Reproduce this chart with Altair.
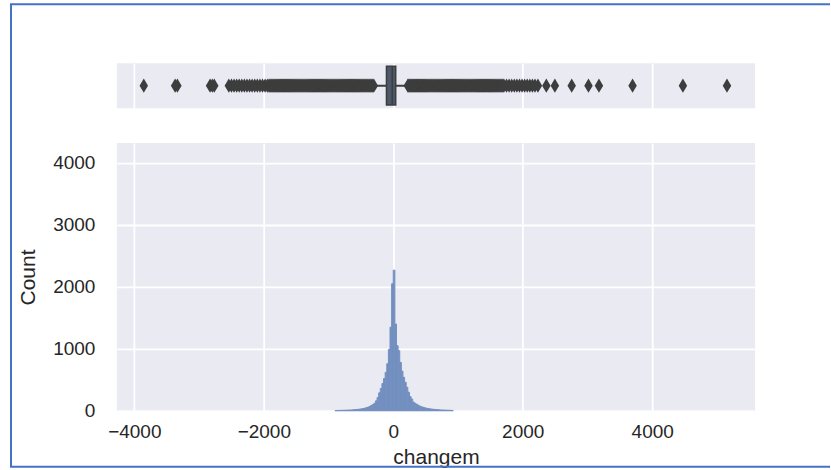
import altair as alt
import pandas as pd

# Histogram of changem: lower bin edges (width 25) and counts
bin_width = 25
bin_lo = [
    -900, -875, -850, -825, -800, -775, -750, -725, -700, -675, -650, -625,
    -600, -575, -550, -525, -500, -475, -450, -425, -400, -375, -350, -325,
    -300, -275, -250, -225, -200, -175, -150, -125, -100, -75, -50, -25,
    0, 25, 50, 75, 100, 125, 150, 175, 200, 225, 250, 275,
    300, 325, 350, 375, 400, 425, 450, 475, 500, 525, 550, 575,
    600, 625, 650, 675, 700, 725, 750, 775, 800, 825, 850, 875, 900,
]
counts = [
    4, 5, 6, 6, 7, 8, 9, 10, 11, 12, 14, 16,
    18, 21, 24, 27, 31, 36, 42, 50, 58, 70, 85, 100,
    120, 160, 215, 290, 360, 440, 520, 620, 760, 990, 1350, 2050,
    2270, 1400, 1050, 970, 780, 640, 540, 460, 380, 300, 230, 190,
    140, 120, 105, 90, 75, 65, 55, 48, 42, 36, 32, 28,
    25, 22, 19, 17, 15, 13, 12, 11, 10, 9, 8, 7, 6,
]

# Box plot summary of changem
q1, median, q3 = -105, -15, 38
whisker_lo, whisker_hi = -280, 230

# Outliers beyond the whiskers (low side, then high side)
outliers_low = [
    -3854, -3370, -3335, -2830, -2795, -2765,
    -2540, -2500, -2460, -2420, -2380, -2340, -2300, -2260, -2220, -2180,
    -2140, -2100, -2060, -2020, -1980, -1945,
    -1920, -1905, -1890, -1875, -1860, -1845, -1830, -1815, -1800, -1785,
    -1770, -1755, -1740, -1725, -1710, -1695, -1680, -1665, -1650, -1635,
    -1620, -1605, -1590, -1575, -1560, -1545, -1530, -1515, -1500, -1485,
    -1470, -1455, -1440, -1425, -1410, -1395, -1380, -1365, -1350, -1335,
    -1320, -1305, -1290, -1275, -1260, -1245, -1230, -1215, -1200, -1185,
    -1170, -1155, -1140, -1125, -1110, -1095, -1080, -1065, -1050, -1035,
    -1020, -1005, -990, -975, -960, -945, -930, -915, -900, -885,
    -870, -855, -840, -825, -810, -795, -780, -765, -750, -735,
    -720, -705, -690, -675, -660, -645, -630, -615, -600, -585,
    -570, -555, -540, -525, -510, -495, -480, -465, -450, -435,
    -420, -405, -390, -375, -360, -345, -330, -315, -300,
]
outliers_high = [
    225, 240, 255, 270, 285, 300, 315, 330, 345, 360,
    375, 390, 405, 420, 435, 450, 465, 480, 495, 510,
    525, 540, 555, 570, 585, 600, 615, 630, 645, 660,
    675, 690, 705, 720, 735, 750, 765, 780, 795, 810,
    825, 840, 855, 870, 885, 900, 915, 930, 945, 960,
    975, 990, 1005, 1020, 1035, 1050, 1065, 1080, 1095, 1110,
    1125, 1140, 1155, 1170, 1185, 1200, 1215, 1230, 1245, 1260,
    1275, 1290, 1305, 1320, 1335, 1350, 1365, 1380, 1395, 1410,
    1425, 1440, 1455, 1470, 1485, 1500, 1515, 1530, 1545, 1560,
    1575, 1590, 1605, 1620, 1635, 1650, 1665, 1680, 1695, 1710,
    1750, 1790, 1830, 1870, 1910, 1950, 1990, 2030, 2070, 2110,
    2150, 2190, 2235,
    2365, 2497, 2757, 3016, 3178, 3697, 4475, 5156,
]

x_ticks = [-4000, -2000, 0, 2000, 4000]
y_ticks = [0, 1000, 2000, 3000, 4000]
x_domain = [-4270, 5590]
y_max = 4320

FONT = "Liberation Sans"
TEXT = "#262626"
DARK = "#3d3d3d"
FRAME = "#4472c4"
BAR = "#7390c0"
W = 639

x_scale = alt.Scale(domain=x_domain, nice=False, zero=False)

hist_df = pd.DataFrame({
    "lo": bin_lo,
    "hi": [b + bin_width for b in bin_lo],
    "count": counts,
})
box_df = pd.DataFrame([{
    "q1": q1, "median": median, "q3": q3,
    "lo": whisker_lo, "hi": whisker_hi,
}])
out_df = pd.DataFrame({"changem": outliers_low + outliers_high})
one = alt.Data(values=[{}])

# ---- top panel: horizontal box plot ----
band = alt.Scale(domain=[-0.5, 0.5], nice=False, zero=False)
x_grid_only = alt.Axis(values=x_ticks, labels=False, ticks=False,
                       domain=False, title=None, grid=True)

whisker = alt.Chart(box_df).mark_rule(color=DARK, strokeWidth=2).encode(
    x=alt.X("lo:Q", scale=x_scale, axis=x_grid_only),
    x2="hi:Q",
    y=alt.datum(0, scale=band, axis=None),
)
box = alt.Chart(box_df).mark_rect(
    fill="#4d596b", stroke=DARK, strokeWidth=1.5
).encode(
    x=alt.X("q1:Q", scale=x_scale),
    x2="q3:Q",
    y=alt.datum(-0.43, scale=band),
    y2=alt.datum(0.43),
)
med = alt.Chart(box_df).mark_rule(color=DARK, strokeWidth=1.5).encode(
    x=alt.X("median:Q", scale=x_scale),
    y=alt.datum(-0.43, scale=band),
    y2=alt.datum(0.43),
)
fliers = alt.Chart(out_df).mark_point(
    shape="M0,-1L0.6,0L0,1L-0.6,0Z", filled=True, color=DARK,
    opacity=1, size=200,
).encode(
    x=alt.X("changem:Q", scale=x_scale),
    y=alt.datum(0, scale=band),
)
top = alt.layer(whisker, box, med, fliers).properties(width=W, height=45)

# ---- bottom panel: histogram ----
bars = alt.Chart(hist_df).mark_rect(
    fill=BAR, stroke=BAR, strokeWidth=1
).encode(
    x=alt.X(
        "lo:Q", scale=x_scale,
        axis=alt.Axis(values=x_ticks, format="d", title="changem",
                      labelPadding=12, titlePadding=5),
    ),
    x2="hi:Q",
    y=alt.Y(
        "count:Q",
        scale=alt.Scale(domain=[0, y_max], nice=False),
        axis=alt.Axis(values=y_ticks, format="d", title="Count",
                      labelPadding=22, titlePadding=14),
    ),
)

# outer frame (left, top and bottom edges)
frame_left = alt.Chart(one).mark_rule(color=FRAME, strokeWidth=2).encode(
    x=alt.value(-106), y=alt.value(-139), y2=alt.value(324)
)
frame_top = alt.Chart(one).mark_rule(color=FRAME, strokeWidth=2).encode(
    x=alt.value(-107), x2=alt.value(714), y=alt.value(-139)
)
frame_bottom = alt.Chart(one).mark_rule(color=FRAME, strokeWidth=2).encode(
    x=alt.value(-107), x2=alt.value(714), y=alt.value(324)
)

bottom = alt.layer(bars, frame_left, frame_top, frame_bottom).properties(
    width=W, height=268
)

chart = (
    alt.vconcat(top, bottom, spacing=35, bounds="flush")
    .properties(padding={"left": 9, "top": 3, "right": 0, "bottom": 0},
                background="white")
    .configure_view(fill="#eaeaf2", stroke=None)
    .configure_axis(
        grid=True, gridColor="white", gridWidth=1.8, gridOpacity=1,
        domain=False, ticks=False,
        labelFont=FONT, labelFontSize=19, labelColor=TEXT,
        titleFont=FONT, titleFontSize=21, titleFontWeight="normal",
        titleColor=TEXT,
    )
)

chart.save("out.html", embed_options={"renderer": "svg", "actions": False})
